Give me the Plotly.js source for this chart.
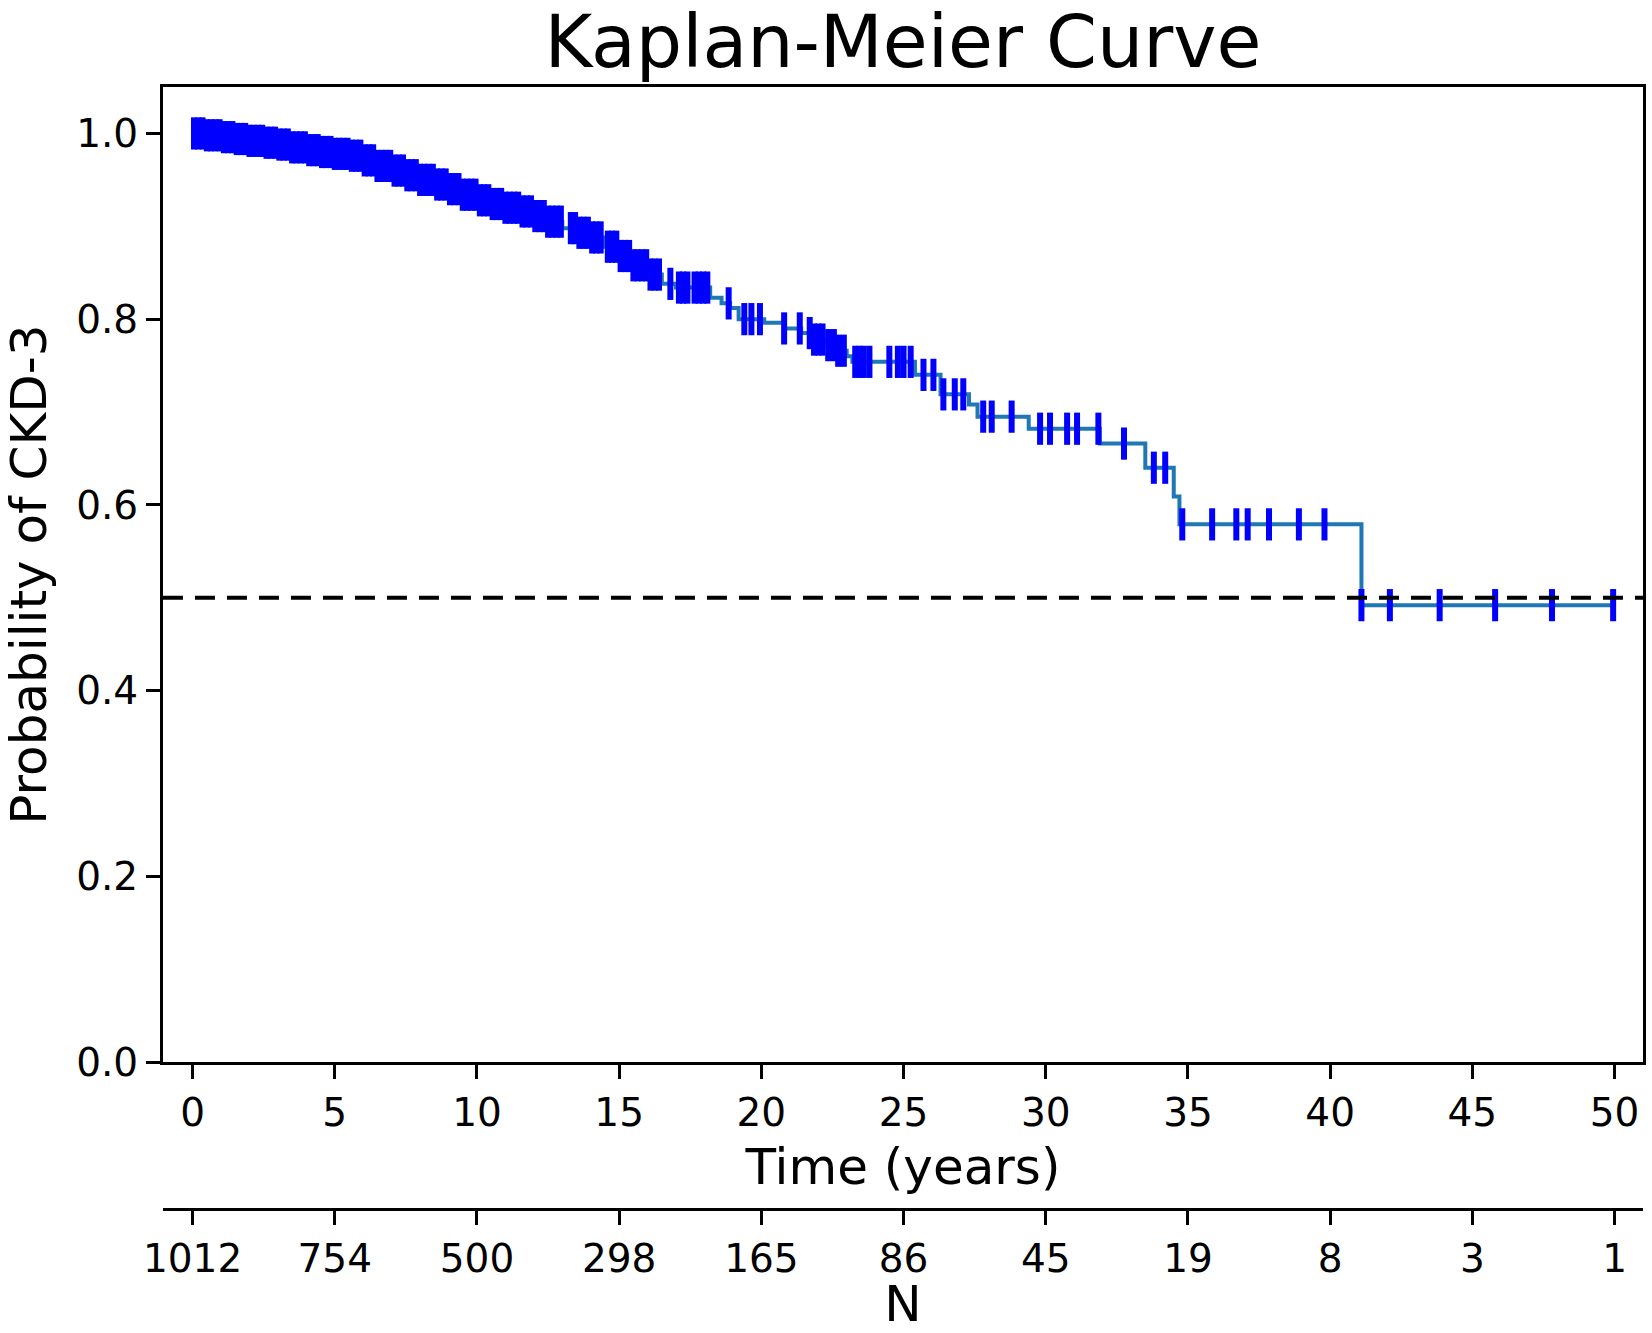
<!DOCTYPE html>
<html>
<head>
<meta charset="utf-8">
<script src="https://cdn.plot.ly/plotly-3.0.1.min.js"></script>
<style>html,body{margin:0;padding:0;background:#fff;}</style>
</head>
<body>
<div id="chart" style="width:1652px;height:1333px;"></div>
<script>
// Kaplan-Meier step curve (event times and survival after each step)
const stepTimes = [0, 0.5, 1.0, 1.5, 2.0, 2.5, 3.0, 3.5, 4.0, 4.5, 5.0, 5.5, 6.0, 6.5, 7.0, 7.5, 8.0, 8.5, 9.0, 9.5,
  10.0, 10.5, 11.0, 11.5, 12.0, 12.5, 13.0, 13.5, 14.0, 14.5, 15.0, 15.5, 16.0, 16.5, 17.0, 18.2, 18.6, 18.9, 19.2,
  20.1, 20.8, 21.4, 21.8, 22.2, 22.6, 23.0, 23.2, 25.4, 26.3, 27.3, 27.6, 29.4, 31.9, 33.5, 34.5, 34.7, 41.1, 49.95];
const stepSurv = [1.000, 0.998, 0.996, 0.994, 0.992, 0.990, 0.988, 0.985, 0.982, 0.980, 0.978, 0.976, 0.971, 0.965, 0.960, 0.955, 0.950, 0.945, 0.940, 0.934,
  0.928, 0.924, 0.920, 0.916, 0.911, 0.905, 0.898, 0.893, 0.888, 0.878, 0.868, 0.858, 0.848, 0.838, 0.834, 0.823, 0.817, 0.812, 0.800,
  0.796, 0.790, 0.785, 0.778, 0.772, 0.766, 0.760, 0.754, 0.740, 0.719, 0.708, 0.695, 0.682, 0.666, 0.640, 0.609, 0.579, 0.492, 0.492];

// Censoring times (tick marks)
const censorTimes = [0.05, 0.2, 0.35, 0.5, 0.65, 0.8, 0.95, 1.1, 1.25, 1.4, 1.55, 1.7, 1.85, 2.0, 2.15, 2.3, 2.45, 2.6, 2.75, 2.9,
  3.05, 3.2, 3.35, 3.5, 3.65, 3.8, 3.95, 4.1, 4.25, 4.4, 4.55, 4.7, 4.85, 5.0, 5.15, 5.3, 5.45, 5.6, 5.75, 5.9,
  6.05, 6.2, 6.35, 6.5, 6.65, 6.8, 6.95, 7.1, 7.25, 7.4, 7.55, 7.7, 7.85, 8.0, 8.15, 8.3, 8.45, 8.6, 8.75, 8.9,
  9.05, 9.2, 9.35, 9.5, 9.65, 9.8, 9.95, 10.1, 10.25, 10.4, 10.55, 10.7, 10.85, 11.0, 11.15, 11.3, 11.45, 11.6, 11.75, 11.9,
  12.05, 12.2, 12.35, 12.5, 12.65, 12.8, 12.95, 13.3, 13.45, 13.6, 13.75, 13.9, 14.05, 14.2, 14.35,
  14.6, 14.75, 14.9, 15.05, 15.2, 15.35, 15.5, 15.65, 15.8, 15.95, 16.1, 16.25, 16.4,
  16.8, 17.1, 17.25, 17.4, 17.65, 17.8, 17.95, 18.1, 18.85, 19.4, 19.65, 19.95, 20.8, 21.35,
  21.7, 21.85, 22.0, 22.15, 22.35, 22.55, 22.7, 22.9, 23.3, 23.45, 23.6, 23.8, 24.5, 24.8, 25.0, 25.25,
  25.7, 26.05, 26.4, 26.8, 27.1, 27.8, 28.1, 28.8, 29.8, 30.15, 30.75, 31.1, 31.85, 32.75, 33.8, 34.2,
  34.8, 35.85, 36.7, 37.1, 37.85, 38.9, 39.8, 41.1, 42.1, 43.85, 45.8, 47.8, 49.95];

// Number-at-risk table
const xTickVals = [0, 5, 10, 15, 20, 25, 30, 35, 40, 45, 50];
const nAtRisk = ['1012', '754', '500', '298', '165', '86', '45', '19', '8', '3', '1'];
const yTickVals = [0.0, 0.2, 0.4, 0.6, 0.8, 1.0];
const medianLine = 0.5;

// survival at a censor time = value of the step function there
function survAt(t) {
  let s = stepSurv[0];
  for (let i = 0; i < stepTimes.length; i++) {
    if (stepTimes[i] <= t) s = stepSurv[i]; else break;
  }
  return s;
}
const censorSurv = censorTimes.map(survAt);

const FONT = 'DejaVu Sans, Liberation Sans, sans-serif';
const xRange = [-1.04, 51.0];

const traces = [
  {
    x: stepTimes, y: stepSurv, type: 'scatter', mode: 'lines',
    line: {shape: 'hv', color: '#1f77b4', width: 4},
    hoverinfo: 'skip', showlegend: false
  },
  {
    x: censorTimes, y: censorSurv, type: 'scatter', mode: 'markers',
    marker: {symbol: 'line-ns', size: 23, color: '#0000ff', line: {color: '#0000ff', width: 6}},
    hoverinfo: 'skip', showlegend: false
  },
  {
    x: xTickVals, y: xTickVals.map(() => null), xaxis: 'x2', yaxis: 'y',
    type: 'scatter', mode: 'none', hoverinfo: 'skip', showlegend: false
  }
];

const axisCommon = {
  showline: true, linecolor: '#000', linewidth: 3,
  ticks: 'outside', ticklen: 14, tickwidth: 3, tickcolor: '#000',
  showgrid: false, zeroline: false,
  tickfont: {family: FONT, size: 39, color: '#000'}
};

const layout = {
  width: 1652, height: 1333,
  margin: {l: 163, r: 9, t: 87, b: 124},
  paper_bgcolor: '#fff', plot_bgcolor: '#fff',
  font: {family: FONT, color: '#000'},
  title: {
    text: 'Kaplan-Meier Curve',
    font: {family: FONT, size: 73, color: '#000'},
    xref: 'paper', x: 0.5, xanchor: 'center',
    yref: 'container', y: 0.969, yanchor: 'middle'
  },
  xaxis: Object.assign({}, axisCommon, {
    range: xRange, tickvals: xTickVals, mirror: true, anchor: 'y',
    title: {text: 'Time (years)', font: {family: FONT, size: 50, color: '#000'}, standoff: 16}
  }),
  xaxis2: Object.assign({}, axisCommon, {
    range: xRange, tickvals: xTickVals, ticktext: nAtRisk,
    overlaying: 'x', anchor: 'free', position: 0, side: 'bottom',
    title: {text: 'N', font: {family: FONT, size: 50, color: '#000'}, standoff: 22}
  }),
  yaxis: Object.assign({}, axisCommon, {
    domain: [0.131, 1], range: [0, 1.05], tickvals: yTickVals, tickformat: '.1f', mirror: true,
    title: {text: 'Probability of CKD-3', font: {family: FONT, size: 50, color: '#000'}, standoff: 22}
  }),
  shapes: [{
    type: 'line', xref: 'x domain', yref: 'y', x0: 0, x1: 1, y0: medianLine, y1: medianLine,
    line: {color: '#000', width: 4, dash: '20px,12px'}, layer: 'above'
  }]
};

Plotly.newPlot('chart', traces, layout, {displayModeBar: false, staticPlot: true});
</script>
</body>
</html>
